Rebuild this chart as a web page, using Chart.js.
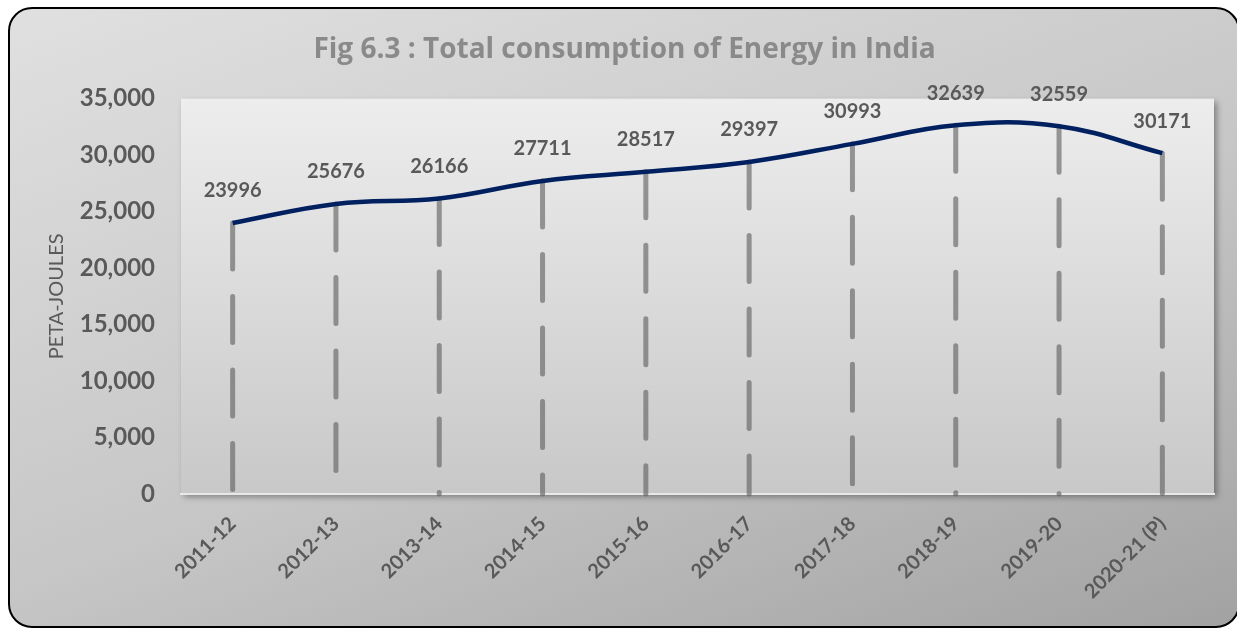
<!DOCTYPE html>
<html>
<head>
<meta charset="utf-8">
<script src="https://cdn.jsdelivr.net/npm/chart.js@4.4.0/dist/chart.umd.min.js"></script>
<style>
    body {
        margin: 0;
        background: #ffffff;
        width: 1237px;
        height: 630px;
        overflow: hidden;
        position: relative;
    }

    .frame {
        position: absolute;
        left: 8px;
        top: 7px;
        width: 1228px;
        height: 617px;
        border: 2.5px solid #000;
        border-radius: 24px;
        background: linear-gradient(160deg, #e0e0e0 0%, #c6c6c6 55%, #a2a2a2 100%);
    }

    #myChart {
        position: absolute;
        left: 0;
        top: 0;
    }
</style>
</head>
<body>
<div class="frame"></div>
<canvas id="myChart" width="1237" height="630"></canvas>

<script>
let years = ['2011-12', '2012-13', '2013-14', '2014-15', '2015-16', '2016-17', '2017-18', '2018-19', '2019-20', '2020-21 (P)'];
let consumption = [23996, 25676, 26166, 27711, 28517, 29397, 30993, 32639, 32559, 30171];
let yTicks = [0, 5000, 10000, 15000, 20000, 25000, 30000, 35000];

let labelGray = '#595959';

// grey panel behind the plot with a little shadow
let plotBackground = {
    id: 'plotBackground',
    beforeDraw(chart) {
        let ctx = chart.ctx;
        let a = chart.chartArea;
        ctx.save();
        let grad = ctx.createLinearGradient(0, a.top, 0, a.bottom);
        grad.addColorStop(0, '#ededed');
        grad.addColorStop(1, '#c8c8c8');
        ctx.shadowColor = 'rgba(0,0,0,0.35)';
        ctx.shadowBlur = 6;
        ctx.shadowOffsetX = 3;
        ctx.shadowOffsetY = 3;
        ctx.fillStyle = grad;
        ctx.fillRect(a.left, a.top, a.right - a.left, a.bottom - a.top);
        ctx.restore();
    }
};

// dashed drop lines from each point down to the x axis
let dropLines = {
    id: 'dropLines',
    beforeDatasetsDraw(chart) {
        let ctx = chart.ctx;
        let meta = chart.getDatasetMeta(0);
        let bottom = chart.scales.y.getPixelForValue(0);
        ctx.save();
        ctx.strokeStyle = 'rgba(95,95,95,0.62)';
        ctx.lineWidth = 5;
        ctx.lineCap = 'round';
        ctx.setLineDash([46, 27.5]);
        for (let i = 0; i < meta.data.length; i++) {
            let p = meta.data[i];
            ctx.beginPath();
            ctx.moveTo(p.x, p.y);
            ctx.lineTo(p.x, bottom);
            ctx.stroke();
        }
        ctx.restore();
    }
};

// value labels above the points
let valueLabels = {
    id: 'valueLabels',
    afterDatasetsDraw(chart) {
        let ctx = chart.ctx;
        let meta = chart.getDatasetMeta(0);
        ctx.save();
        ctx.fillStyle = labelGray;
        ctx.font = 'bold 20px Lato';
        ctx.textAlign = 'center';
        ctx.textBaseline = 'middle';
        for (let i = 0; i < meta.data.length; i++) {
            let p = meta.data[i];
            ctx.fillText(String(consumption[i]), p.x, p.y - 32);
        }
        ctx.restore();
    }
};

function createChart() {
    const ctx = document.getElementById('myChart');

    new Chart(ctx, {
        type: 'line',
        data: {
            labels: years,
            datasets: [{
                label: 'Total consumption',
                data: consumption,
                borderColor: '#002060',
                borderWidth: 4.5,
                tension: 0.4,
                pointRadius: 0,
                fill: false
            }]
        },
        options: {
            responsive: false,
            animation: false,
            layout: {
                padding: { left: 35, right: 23, top: 0, bottom: 0 }
            },
            plugins: {
                legend: { display: false },
                tooltip: { enabled: false },
                title: {
                    display: true,
                    text: 'Fig 6.3 : Total consumption of Energy in India',
                    color: '#8a8a8a',
                    font: { family: 'Open Sans', size: 28, weight: 'bold' },
                    padding: { top: 33, bottom: 32 }
                }
            },
            scales: {
                x: {
                    offset: true,
                    grid: { display: false, drawTicks: false },
                    border: { display: true, color: '#e8e8e8', width: 2 },
                    ticks: {
                        color: labelGray,
                        font: { family: 'Lato', size: 20, weight: 'bold' },
                        minRotation: 45,
                        maxRotation: 45,
                        padding: 18
                    },
                    afterFit(scale) {
                        scale.height = 136;
                    }
                },
                y: {
                    min: 0,
                    max: 35000,
                    afterBuildTicks(scale) {
                        scale.ticks = yTicks.map(v => ({ value: v }));
                    },
                    grid: { display: false, drawTicks: false },
                    border: { display: false },
                    ticks: {
                        color: labelGray,
                        font: { family: 'Lato', size: 24, weight: 'bold' },
                        padding: 26,
                        callback: v => v.toLocaleString('en-US')
                    },
                    title: {
                        display: true,
                        text: 'PETA-JOULES',
                        color: labelGray,
                        font: { family: 'Lato', size: 20 },
                        padding: { top: 10, bottom: 0 }
                    },
                    afterFit(scale) {
                        scale.width = 146;
                    }
                }
            }
        },
        plugins: [plotBackground, dropLines, valueLabels]
    });
}

createChart();
</script>
</body>
</html>
